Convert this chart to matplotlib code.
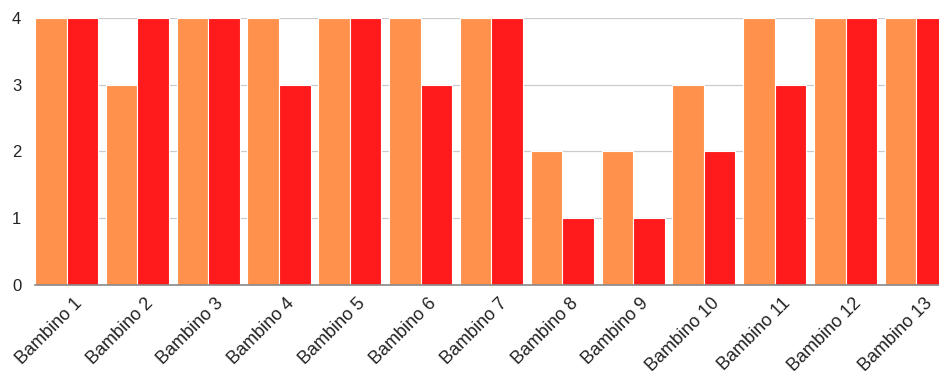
import matplotlib
matplotlib.use('Agg')
import matplotlib.pyplot as plt
import matplotlib.transforms as mtransforms
import numpy as np

plt.rcParams['font.family'] = ['Liberation Sans', 'DejaVu Sans']

categorie = ['Bambino %d' % i for i in range(1, 14)]
serie_arancio = [4, 3, 4, 4, 4, 4, 4, 2, 2, 3, 4, 4, 4]
serie_rosso = [4, 4, 4, 3, 4, 3, 4, 1, 1, 2, 3, 4, 4]

colore_arancio = '#FF914D'
colore_rosso = '#FF1A1C'

fig = plt.figure(figsize=(9.39, 3.71), dpi=100)
ax = fig.add_axes([0.0373, 0.2318, 0.9627, 0.7197])

x = np.arange(len(categorie))
w = 0.445
ax.bar(x - w / 2, serie_arancio, w, color=colore_arancio, edgecolor='white', linewidth=0.8, zorder=3)
ax.bar(x + w / 2, serie_rosso, w, color=colore_rosso, edgecolor='white', linewidth=0.8, zorder=3)

ax.set_xlim(-0.445, 12.32)
ax.set_ylim(0, 4)
ax.set_yticks([0, 1, 2, 3, 4])
ax.yaxis.grid(True, color='#cccccc', linewidth=0.9, zorder=0)
ax.set_axisbelow(True)

ax.set_xticks(x)
ax.set_xticklabels(categorie, rotation=45, ha='right', rotation_mode='anchor', fontsize=13, color='#222222')
ax.tick_params(axis='x', length=0, pad=7)
ax.tick_params(axis='y', length=0, pad=10, labelsize=12, labelcolor='#222222')

# sposto un po' a destra le etichette
sposta = mtransforms.ScaledTranslation(7 / 100, 0, fig.dpi_scale_trans)
for lab in ax.get_xticklabels():
    lab.set_transform(lab.get_transform() + sposta)

for s in ['top', 'right', 'left']:
    ax.spines[s].set_visible(False)
ax.spines['bottom'].set_color('#888888')
ax.spines['bottom'].set_linewidth(1.2)
ax.spines['bottom'].set_zorder(4)

fig.savefig('out.png', dpi=100)
